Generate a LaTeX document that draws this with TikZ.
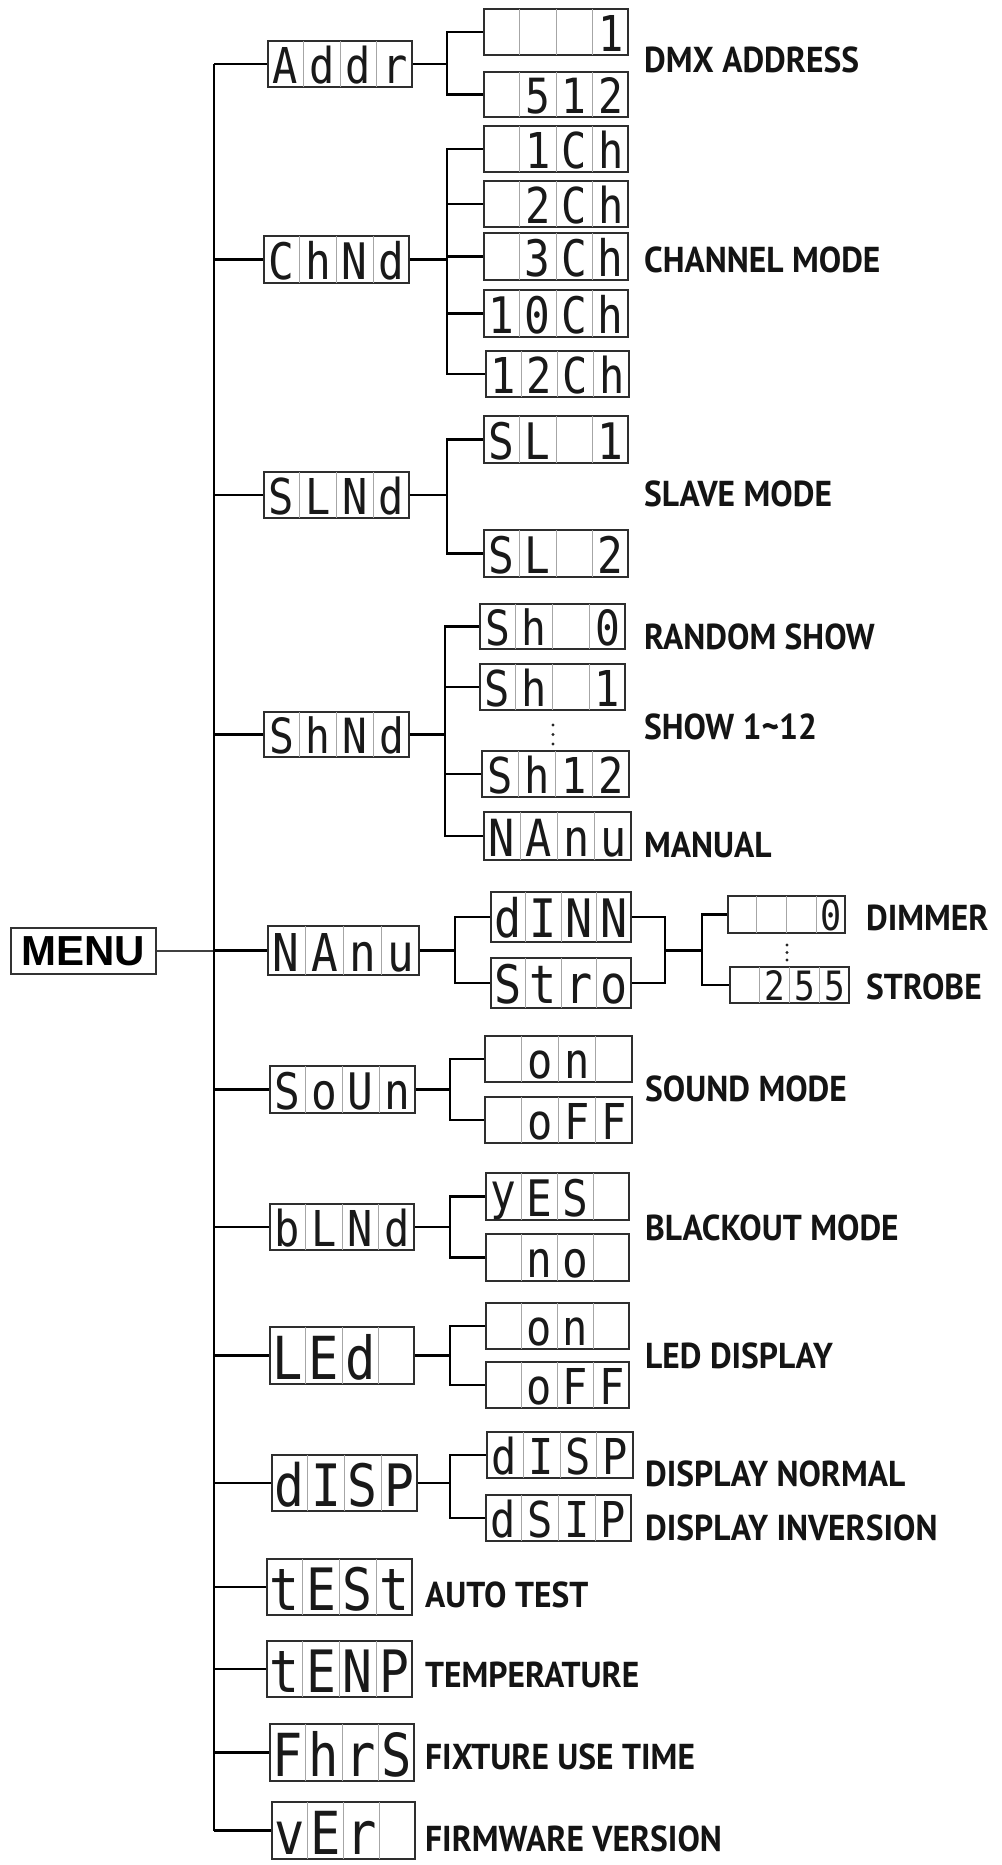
\documentclass[tikz,border=0pt]{standalone}
\usepackage{fontspec}
\usetikzlibrary{calc}
\newfontfamily\segfont[FakeStretch=0.85]{DejaVu Sans Mono}
\newfontfamily\labfont[FakeStretch=0.93]{PT Sans}
\newfontfamily\menufont{Liberation Sans}
\tikzset{
  dispbox/.style={draw=black!82, line width=1.8pt, fill=white, inner sep=0pt, rectangle},
  divider/.style={draw=black!35, line width=1pt, shorten <=1pt, shorten >=1pt},
  seg/.style={text=black!90, inner sep=0pt},
  conn/.style={draw=black, line width=2.4pt},
  menuconn/.style={draw=black!75, line width=1.6pt},
  lab/.style={anchor=base west, inner sep=0pt, text=black!92,
    font=\labfont\bfseries\fontsize{36}{36}\selectfont},
  menubox/.style={draw=black!80, line width=1.8pt, fill=white, inner sep=0pt,
    minimum width=145pt, minimum height=46pt,
    font=\menufont\bfseries\fontsize{42}{42}\selectfont},
  dotmark/.style={fill=black!85},
}
\newcommand{\segcell}[5]{%
  \if\relax\detokenize{#4}\relax\else
  \node[seg, anchor=base, font=\segfont\fontsize{\segfs pt}{\segfs pt}\selectfont] (#1c#2)
    at ($(#1.south west)!#3!(#1.south east)+(0,-0.1*#5)$) {#4};
  \fi}
\newcommand{\dbox}[9]{%
  \node[dispbox, minimum width=#4pt, minimum height=#5pt] (#1) at (#2,#3) {};
  \foreach \dd in {1,2,3}{\draw[divider] ($(#1.north west)!\dd/4!(#1.north east)$) -- ($(#1.south west)!\dd/4!(#1.south east)$);}
  \pgfmathsetmacro{\segfs}{0.9*#5+8}%
  \segcell{#1}{1}{0.125}{#6}{#5}%
  \segcell{#1}{2}{0.375}{#7}{#5}%
  \segcell{#1}{3}{0.625}{#8}{#5}%
  \segcell{#1}{4}{0.875}{#9}{#5}%
}
\begin{document}
\begin{tikzpicture}[x=1pt, y=-1pt]
\useasboundingbox (0,0) rectangle (1001,1865);
\fill[white] (0,0) rectangle (1001,1865);

% MENU
\node[menubox] (menu) at (83.5,951) {MENU};

% level 1
\dbox{Addr}{340}{64}{144}{46}{A}{d}{d}{r}
\dbox{ChNd}{336.5}{259.5}{145}{47}{C}{h}{N}{d}
\dbox{SLNd}{336.5}{495}{145}{46}{S}{L}{N}{d}
\dbox{ShNd}{336.5}{734.5}{145}{45}{S}{h}{N}{d}
\dbox{NAnu}{343.5}{950.5}{151}{49}{N}{A}{n}{u}
\dbox{SoUn}{342.5}{1089.5}{145}{47}{S}{o}{U}{n}
\dbox{bLNd}{342}{1227}{144}{46}{b}{L}{N}{d}
\dbox{LEd}{342}{1355.5}{144}{57}{L}{E}{d}{}
\dbox{dISP}{344.5}{1483}{145}{56}{d}{I}{S}{P}
\dbox{tESt}{339.5}{1587}{145}{56}{t}{E}{S}{t}
\dbox{tENP}{339.5}{1669}{145}{56}{t}{E}{N}{P}
\dbox{FhrS}{342}{1752.5}{144}{57}{F}{h}{r}{S}
\dbox{vEr}{343.5}{1830.5}{143}{57}{v}{E}{r}{}

% level 2
\dbox{A1}{556}{32}{144}{46}{}{}{}{1}
\dbox{A2}{556}{94.5}{144}{45}{}{5}{1}{2}
\dbox{C1}{556}{149}{144}{46}{}{1}{C}{h}
\dbox{C2}{556}{204}{144}{46}{}{2}{C}{h}
\dbox{C3}{556}{256.5}{144}{47}{}{3}{C}{h}
\dbox{C4}{556}{313.5}{144}{47}{1}{0}{C}{h}
\dbox{C5}{557.5}{374}{143}{46}{1}{2}{C}{h}
\dbox{S1}{556}{439.5}{144}{47}{S}{L}{}{1}
\dbox{S2}{556}{553.5}{144}{47}{S}{L}{}{2}
\dbox{H1}{552.5}{626.5}{145}{45}{S}{h}{}{0}
\dbox{H2}{552.5}{687}{145}{46}{S}{h}{}{1}
\dbox{H3}{555.5}{774}{147}{46}{S}{h}{1}{2}
\dbox{H4}{557.5}{836}{147}{48}{N}{A}{n}{u}
\dbox{M1}{561}{917}{140}{50}{d}{I}{N}{N}
\dbox{M2}{561}{983}{140}{50}{S}{t}{r}{o}
\dbox{D1}{786.5}{914.5}{117}{37}{}{}{}{0}
\dbox{D2}{789.5}{985}{119}{36}{}{2}{5}{5}
\dbox{O1}{558.5}{1059}{147}{46}{}{o}{n}{}
\dbox{O2}{558.5}{1120}{147}{46}{}{o}{F}{F}
\dbox{Y1}{557.5}{1196.5}{143}{47}{\raisebox{7pt}{y}}{E}{S}{}
\dbox{Y2}{557.5}{1257.5}{143}{47}{}{n}{o}{}
\dbox{L1}{557.5}{1326}{143}{46}{}{o}{n}{}
\dbox{L2}{557.5}{1385}{143}{46}{}{o}{F}{F}
\dbox{P1}{560}{1455}{146}{46}{d}{I}{S}{P}
\dbox{P2}{558.5}{1518}{145}{46}{d}{S}{I}{P}

% trunk
\coordinate (trunk) at (214,0);
\draw[menuconn] (menu.east) -- (menu.east -| trunk);
\draw[conn] (Addr.west -| trunk) -- (vEr.west -| trunk);
\foreach \b in {Addr,ChNd,SLNd,ShNd,NAnu,SoUn,bLNd,LEd,dISP,tESt,tENP,FhrS,vEr}
  {\draw[conn] (\b.west -| trunk) -- (\b.west);}

% branches
\coordinate (bxa) at (447,0);
\coordinate (bxb) at (445,0);
\coordinate (bxc) at (455,0);
\coordinate (bxd) at (450,0);
\coordinate (rxa) at (665,0);
\coordinate (rxb) at (702,0);

\draw[conn] (Addr.east) -- (Addr.east -| bxa);
\draw[conn] (A1.west) -- (A1.west -| bxa) -- (A2.west -| bxa) -- (A2.west);

\draw[conn] (ChNd.east) -- (ChNd.east -| bxa);
\draw[conn] (C1.west) -- (C1.west -| bxa) -- (C5.west -| bxa) -- (C5.west);
\foreach \c in {C2,C3,C4} {\draw[conn] (\c.west -| bxa) -- (\c.west);}

\draw[conn] (SLNd.east) -- (SLNd.east -| bxa);
\draw[conn] (S1.west) -- (S1.west -| bxa) -- (S2.west -| bxa) -- (S2.west);

\draw[conn] (ShNd.east) -- (ShNd.east -| bxb);
\draw[conn] (H1.west) -- (H1.west -| bxb) -- (H4.west -| bxb) -- (H4.west);
\foreach \c in {H2,H3} {\draw[conn] (\c.west -| bxb) -- (\c.west);}

\draw[conn] (NAnu.east) -- (NAnu.east -| bxc);
\draw[conn] (M1.west) -- (M1.west -| bxc) -- (M2.west -| bxc) -- (M2.west);
\draw[conn] (M1.east) -- (M1.east -| rxa) -- (M2.east -| rxa) -- (M2.east);
\draw[conn] (NAnu.east -| rxa) -- (NAnu.east -| rxb);
\draw[conn] (D1.west) -- (D1.west -| rxb) -- (D2.west -| rxb) -- (D2.west);

\draw[conn] (SoUn.east) -- (SoUn.east -| bxd);
\draw[conn] (O1.west) -- (O1.west -| bxd) -- (O2.west -| bxd) -- (O2.west);
\draw[conn] (bLNd.east) -- (bLNd.east -| bxd);
\draw[conn] (Y1.west) -- (Y1.west -| bxd) -- (Y2.west -| bxd) -- (Y2.west);
\draw[conn] (LEd.east) -- (LEd.east -| bxd);
\draw[conn] (L1.west) -- (L1.west -| bxd) -- (L2.west -| bxd) -- (L2.west);
\draw[conn] (dISP.east) -- (dISP.east -| bxd);
\draw[conn] (P1.west) -- (P1.west -| bxd) -- (P2.west -| bxd) -- (P2.west);

% ellipsis dots
\foreach \yy in {725,734.5,744} {\fill[dotmark] (553,\yy) circle (1.7);}
\foreach \yy in {945,952.5,960} {\fill[dotmark] (787,\yy) circle (1.7);}

% labels
\node[lab] (lDMX) at (644,73) {DMX ADDRESS};
\node[lab] (lCH) at (644,272) {CHANNEL MODE};
\node[lab] (lSL) at (644,506) {SLAVE MODE};
\node[lab] (lRS) at (644,649) {RANDOM SHOW};
\node[lab] (lSH) at (644,739) {SHOW 1\textasciitilde12};
\node[lab] (lMA) at (644,857) {MANUAL};
\node[lab] (lDI) at (866,930) {DIMMER};
\node[lab] (lST) at (866,999) {STROBE};
\node[lab] (lSO) at (645,1101) {SOUND MODE};
\node[lab] (lBL) at (645,1240) {BLACKOUT MODE};
\node[lab] (lLE) at (645,1368) {LED DISPLAY};
\node[lab] (lDN) at (645,1486) {DISPLAY NORMAL};
\node[lab] (lDV) at (645,1540) {DISPLAY INVERSION};
\node[lab] (lAT) at (425,1607) {AUTO TEST};
\node[lab] (lTE) at (425,1687) {TEMPERATURE};
\node[lab] (lFX) at (425,1769) {FIXTURE USE TIME};
\node[lab] (lFW) at (425,1851) {FIRMWARE VERSION};
\end{tikzpicture}
\end{document}
